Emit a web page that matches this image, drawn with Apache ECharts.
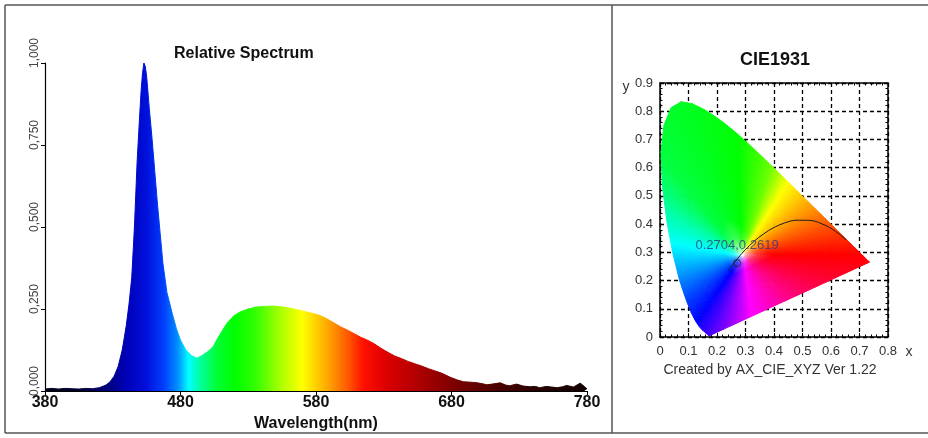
<!DOCTYPE html>
<html><head><meta charset="utf-8">
<script src="https://cdn.jsdelivr.net/npm/echarts@6.0.0/dist/echarts.min.js"></script>
<style>html,body{margin:0;padding:0;background:#fff}#c{width:928px;height:438px}</style>
</head><body><div id="c"></div>
<script>
// ---------- Relative spectrum data ----------
const wavelengths = [380,385,390,395,400,405,410,415,420,425,428,431,434,437,440,442,444,446,448,450,451,452,453,454,455,457,459,461,463,465,467,470,474,477,480,484,488,492,496,500,504,508,514,519,524,530,536,542,548,554,560,566,573,578,583,588,593,598,603,608,613,618,623,628,633,638,643,648,653,658,663,668,673,679,684,689,694,699,703,706,710,716,720,723,728,733,738,742,745,750,754,758,762,765,770,775,778,780];
const relIntensity = [0.006,0.008,0.006,0.008,0.007,0.006,0.008,0.007,0.010,0.018,0.028,0.045,0.075,0.125,0.200,0.265,0.345,0.50,0.70,0.85,0.92,0.97,1.00,0.99,0.96,0.86,0.77,0.67,0.57,0.48,0.39,0.30,0.235,0.19,0.155,0.125,0.108,0.100,0.108,0.120,0.134,0.165,0.205,0.228,0.241,0.250,0.256,0.258,0.259,0.257,0.253,0.248,0.241,0.236,0.230,0.220,0.208,0.196,0.186,0.175,0.164,0.155,0.144,0.130,0.118,0.107,0.099,0.090,0.083,0.076,0.068,0.061,0.054,0.042,0.034,0.028,0.027,0.025,0.022,0.019,0.021,0.025,0.018,0.016,0.021,0.015,0.013,0.014,0.010,0.014,0.012,0.010,0.013,0.017,0.012,0.024,0.014,0.006];
const spectrumTitle = 'Relative Spectrum';
const spectrumXName = 'Wavelength(nm)';

// ---------- CIE 1931 data ----------
const cieLocusX = [0.1741,0.1740,0.1738,0.1736,0.1733,0.1730,0.1726,0.1721,0.1714,0.1703,0.1689,0.1669,0.1644,0.1611,0.1566,0.1510,0.1440,0.1355,0.1241,0.1096,0.0913,0.0687,0.0454,0.0235,0.0082,0.0039,0.0139,0.0389,0.0743,0.1142,0.1547,0.1929,0.2296,0.2658,0.3016,0.3373,0.3731,0.4087,0.4441,0.4788,0.5125,0.5448,0.5752,0.6029,0.6270,0.6482,0.6658,0.6801,0.6915,0.7006,0.7079,0.7140,0.7190,0.7230,0.7260,0.7300,0.7320,0.7334,0.7347];
const cieLocusY = [0.0050,0.0050,0.0049,0.0049,0.0048,0.0048,0.0048,0.0048,0.0051,0.0058,0.0069,0.0086,0.0109,0.0138,0.0177,0.0227,0.0297,0.0399,0.0578,0.0868,0.1327,0.2007,0.2950,0.4127,0.5384,0.6548,0.7502,0.8120,0.8338,0.8262,0.8059,0.7816,0.7543,0.7243,0.6923,0.6589,0.6245,0.5896,0.5547,0.5202,0.4866,0.4544,0.4242,0.3965,0.3725,0.3514,0.3340,0.3197,0.3083,0.2993,0.2920,0.2859,0.2809,0.2770,0.2740,0.2700,0.2680,0.2666,0.2653];
const planckX = [0.2399,0.2479,0.2565,0.2637,0.2807,0.2952,0.3064,0.3221,0.3451,0.3805,0.4053,0.4369,0.4770,0.5267,0.5857,0.6251,0.6528];
const planckY = [0.2340,0.2458,0.2577,0.2673,0.2884,0.3048,0.3166,0.3318,0.3516,0.3768,0.3907,0.4041,0.4137,0.4133,0.3931,0.3674,0.3444];
const chromaPoint = [0.2704, 0.2619];
const whitePointXY = [0.29, 0.29];
const cieTitle = 'CIE1931';
const cieCredit = 'Created by AX_CIE_XYZ Ver 1.22';

// ---------- styles ----------
const FONT = 'Liberation Sans, Arial, sans-serif';
const spectrumStops = [
  [0,'#000018'],[0.075,'#000038'],[0.1125,'#000078'],[0.15,'#0000b8'],[0.1875,'#0010dc'],
  [0.22,'#0040ff'],[0.245,'#0090ff'],[0.265,'#00ffff'],[0.29,'#00ff90'],[0.32,'#00ff30'],
  [0.35,'#00ff00'],[0.3875,'#30ff00'],[0.4375,'#b0ff00'],[0.475,'#ffff00'],[0.525,'#ffa000'],
  [0.5625,'#ff5000'],[0.5875,'#ff1000'],[0.625,'#e00000'],[0.6875,'#b00000'],[0.75,'#800000'],
  [0.825,'#500000'],[0.9,'#280000'],[1,'#100000']
].map(s => ({offset:s[0], color:s[1]}));
const specGrad = () => new echarts.graphic.LinearGradient(0,0,1,0, spectrumStops);

const hueKnots = [[0,0],[58,60],[72,95],[92,120],[130,135],[150,160],[170,180],[235,240],[278,300],[360,360]];
function angleToHue(a){
  a = ((a % 360) + 360) % 360;
  for (let i = 1; i < hueKnots.length; i++) {
    const [a0,h0] = hueKnots[i-1], [a1,h1] = hueKnots[i];
    if (a <= a1) return h0 + (h1-h0)*(a-a0)/(a1-a0);
  }
  return 0;
}
function hueRGB(h){
  h = ((h % 360) + 360) % 360;
  const f = n => { const k = (n + h/30) % 12; return 0.5 - 0.5*Math.max(-1, Math.min(k-3, 9-k, 1)); };
  return [f(0), f(8), f(4)].map(v => Math.round(v*255));
}
function mixWhite(c, w){ return 'rgb(' + c.map(v => Math.round(v + (255-v)*w)).join(',') + ')'; }

function renderHorseshoe(params, api){
  const loc = cieLocusX.map((x,i) => [x, cieLocusY[i]]);
  const ring = loc.concat([loc[0]]);
  const c = api.coord(whitePointXY);
  const children = [];
  for (let i = 0; i < ring.length-1; i++) {
    const P = api.coord(ring[i]), Q = api.coord(ring[i+1]);
    const len = Math.hypot(Q[0]-P[0], Q[1]-P[1]);
    const n = Math.max(1, Math.ceil(len/2.5));
    for (let k = 0; k < n; k++) {
      const A = [P[0]+(Q[0]-P[0])*k/n, P[1]+(Q[1]-P[1])*k/n];
      const B = [P[0]+(Q[0]-P[0])*(k+1)/n, P[1]+(Q[1]-P[1])*(k+1)/n];
      const M = [(A[0]+B[0])/2, (A[1]+B[1])/2];
      const ang = Math.atan2(-(M[1]-c[1]), M[0]-c[0]) * 180/Math.PI;
      const col = hueRGB(angleToHue(ang));
      const grad = {type:'linear', x:c[0], y:c[1], x2:M[0], y2:M[1], global:true,
        colorStops:[{offset:0,color:'#ffffff'},{offset:0.04,color:mixWhite(col,0.6)},{offset:0.12,color:mixWhite(col,0.2)},{offset:0.24,color:mixWhite(col,0)},{offset:1,color:mixWhite(col,0)}]};
      children.push({type:'polygon', shape:{points:[c, A, B]}, style:{fill:grad, stroke:grad, lineWidth:1}});
    }
  }
  return {type:'group', children};
}

const chart = echarts.init(document.getElementById('c'), null, {renderer:'canvas'});
const frameColor = '#555';
const cieLabelStyle = {color:'#333', fontSize:13, fontFamily:FONT};

chart.setOption({
  animation:false,
  backgroundColor:'#fff',
  textStyle:{fontFamily:FONT},
  grid:[
    {left:45, top:63, width:542, height:328, outerBoundsMode:'none', containLabel:false},
    {left:660, top:83, width:228, height:254, outerBoundsMode:'none', containLabel:false}
  ],
  xAxis:[
    {gridIndex:0, type:'value', min:380, max:780, interval:100,
     name:spectrumXName, nameLocation:'middle', nameGap:22,
     nameTextStyle:{fontSize:16, fontWeight:'bold', color:'#111', fontFamily:FONT},
     axisLine:{lineStyle:{color:'#000', width:1.2}},
     axisTick:{show:true, length:4, lineStyle:{color:'#000'}},
     axisLabel:{fontSize:16, fontWeight:'bold', color:'#111', margin:4, fontFamily:FONT},
     splitLine:{show:false}},
    {gridIndex:1, type:'value', min:0, max:0.8, interval:0.1, position:'bottom',
     axisLine:{onZero:false, lineStyle:{color:'#000', width:1.5}},
     axisTick:{show:true, inside:true, length:4, lineStyle:{color:'#000'}},
     minorTick:{show:true, splitNumber:5, length:2.5, lineStyle:{color:'#000'}},
     axisLabel:Object.assign({margin:8, formatter:v => v===0 ? '0' : v.toFixed(1)}, cieLabelStyle),
     splitLine:{show:true, lineStyle:{color:'#000', width:1.3, type:[4,3]}}},
    {gridIndex:1, type:'value', min:0, max:0.8, interval:0.1, position:'top',
     axisLine:{onZero:false, lineStyle:{color:'#000', width:1.5}},
     axisTick:{show:true, inside:true, length:4, lineStyle:{color:'#000'}},
     minorTick:{show:true, splitNumber:5, length:2.5, lineStyle:{color:'#000'}},
     axisLabel:{show:false}, splitLine:{show:false}}
  ],
  yAxis:[
    {gridIndex:0, type:'value', min:0, max:1, interval:0.25,
     axisLine:{show:true, lineStyle:{color:'#000', width:1.2}},
     axisTick:{show:true, length:4, lineStyle:{color:'#000'}},
     axisLabel:{rotate:90, fontSize:12, color:'#444', margin:4, fontFamily:FONT, padding:[0,0,0,20],
       formatter:v => v.toFixed(3).replace('.', ',')},
     splitLine:{show:false}},
    {gridIndex:1, type:'value', min:0, max:0.9, interval:0.1, position:'left',
     axisLine:{show:true, onZero:false, lineStyle:{color:'#000', width:1.5}},
     axisTick:{show:true, inside:true, length:4, lineStyle:{color:'#000'}},
     minorTick:{show:true, splitNumber:5, length:2.5, lineStyle:{color:'#000'}},
     axisLabel:Object.assign({margin:7, formatter:v => v===0 ? '0' : v.toFixed(1)}, cieLabelStyle),
     splitLine:{show:true, lineStyle:{color:'#000', width:1.3, type:[4,3]}}},
    {gridIndex:1, type:'value', min:0, max:0.9, interval:0.1, position:'right',
     axisLine:{show:true, onZero:false, lineStyle:{color:'#000', width:1.5}},
     axisTick:{show:true, inside:true, length:4, lineStyle:{color:'#000'}},
     minorTick:{show:true, splitNumber:5, length:2.5, lineStyle:{color:'#000'}},
     axisLabel:{show:false}, splitLine:{show:false}}
  ],
  series:[
    {type:'line', xAxisIndex:0, yAxisIndex:0, silent:true, symbol:'none', showSymbol:false,
     data:wavelengths.map((w,i) => [w, relIntensity[i]]),
     lineStyle:{width:1, color:specGrad()},
     areaStyle:{color:specGrad(), opacity:1}, z:2},
    {type:'custom', xAxisIndex:1, yAxisIndex:1, silent:true,
     data:[whitePointXY], renderItem:renderHorseshoe, z:2},
    {type:'line', xAxisIndex:1, yAxisIndex:1, silent:true, symbol:'none', smooth:0.3,
     data:planckX.map((x,i) => [x, planckY[i]]),
     lineStyle:{color:'#1a1a1a', width:1}, z:4},
    {type:'scatter', xAxisIndex:1, yAxisIndex:1, silent:true, symbol:'circle', symbolSize:7,
     data:[chromaPoint],
     itemStyle:{color:'rgba(0,0,0,0)', borderColor:'#222', borderWidth:1},
     label:{show:true, position:'top', distance:7,
       formatter:() => chromaPoint[0].toFixed(4) + ',' + chromaPoint[1].toFixed(4),
       color:'#34348a', fontSize:13, fontFamily:FONT}, z:5}
  ],
  graphic:[
    {type:'line', shape:{x1:5, y1:5, x2:928, y2:5}, style:{stroke:frameColor, lineWidth:1.5}, silent:true},
    {type:'line', shape:{x1:5, y1:433, x2:928, y2:433}, style:{stroke:frameColor, lineWidth:1.5}, silent:true},
    {type:'line', shape:{x1:5, y1:5, x2:5, y2:433}, style:{stroke:frameColor, lineWidth:1.5}, silent:true},
    {type:'line', shape:{x1:612, y1:5, x2:612, y2:433}, style:{stroke:frameColor, lineWidth:1.5}, silent:true},
    {type:'text', x:174, y:54, style:{text:spectrumTitle, fontSize:16, fontWeight:'bold', fill:'#111', fontFamily:FONT, textVerticalAlign:'middle', verticalAlign:'middle'}, silent:true},
    {type:'text', x:775, y:60, style:{text:cieTitle, fontSize:18, fontWeight:'bold', fill:'#111', fontFamily:FONT, align:'center', textAlign:'center', verticalAlign:'middle', textVerticalAlign:'middle'}, silent:true},
    {type:'text', x:770, y:370, style:{text:cieCredit, fontSize:14, fill:'#333', fontFamily:FONT, align:'center', textAlign:'center', verticalAlign:'middle', textVerticalAlign:'middle'}, silent:true},
    {type:'text', x:626, y:87, style:{text:'y', fontSize:14, fill:'#333', fontFamily:FONT, align:'center', textAlign:'center', verticalAlign:'middle', textVerticalAlign:'middle'}, silent:true},
    {type:'text', x:909, y:352, style:{text:'x', fontSize:14, fill:'#333', fontFamily:FONT, align:'center', textAlign:'center', verticalAlign:'middle', textVerticalAlign:'middle'}, silent:true}
  ]
});
</script>
</body></html>
